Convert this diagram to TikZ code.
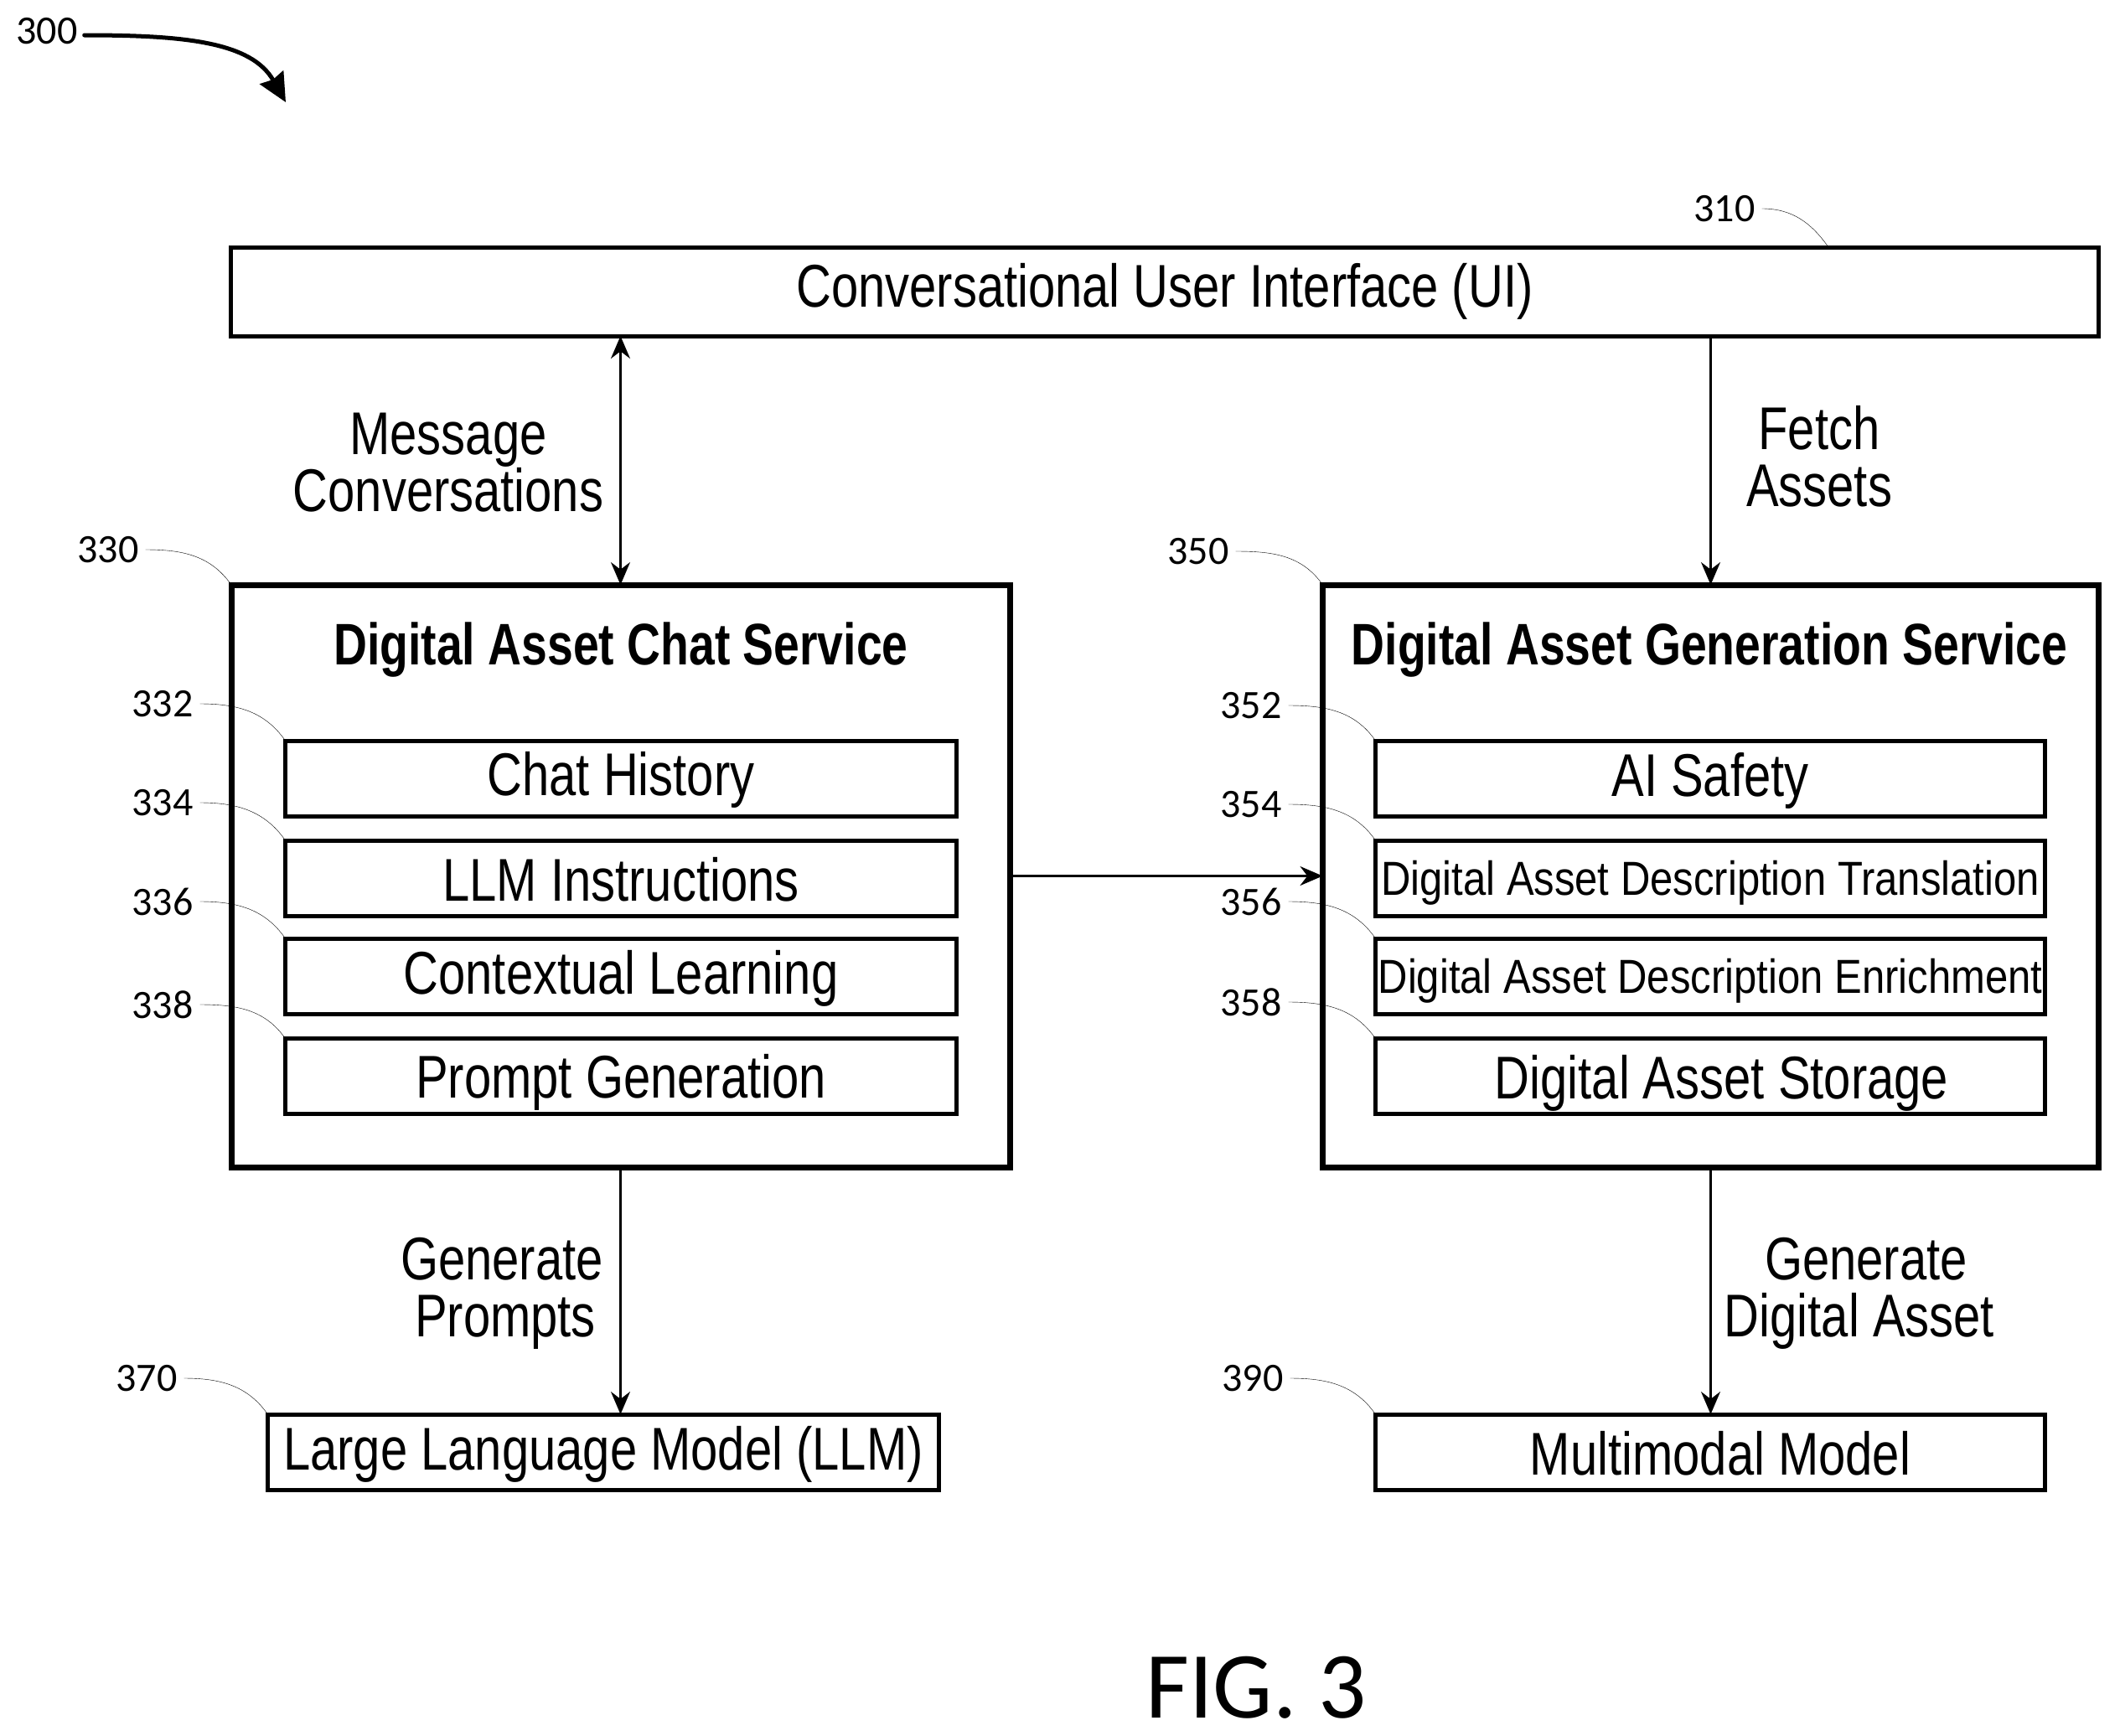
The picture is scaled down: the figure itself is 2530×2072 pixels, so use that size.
\documentclass[tikz,border=0pt]{standalone}
\usepackage{fontspec}
\usetikzlibrary{arrows.meta}
\newfontfamily\numfont{Carlito}
\newfontfamily\lblfont[FakeStretch=0.805]{Liberation Sans}
\newfontfamily\narrowfont[FakeStretch=0.86]{Liberation Sans}
\newfontfamily\boldfont[FakeStretch=0.79]{Liberation Sans Bold}
\newcommand{\sunk}[2]{\raisebox{-#1}[\height][\depth]{#2}}
\tikzset{
  box/.style={draw,line width=5pt,outer sep=0pt,inner sep=0pt,align=center,font=\fontsize{72}{84}\lblfont},
  bigbox/.style={draw,line width=7pt,outer sep=0pt,minimum height=695pt},
  subbox/.style={box,minimum height=90pt},
  smalltxt/.style={font=\fontsize{57}{66}\narrowfont},
  lbl/.style={align=center,inner sep=0pt,font=\fontsize{72}{68}\lblfont},
  title/.style={inner sep=0pt,font=\fontsize{70}{78}\boldfont},
  num/.style={inner sep=8pt,font=\fontsize{48}{56}\numfont},
  leader/.style={line width=3.5pt,out=0,in=235},
  flow/.style={line width=2.5pt,-{Stealth[length=27pt,width=23pt]}},
  flowboth/.style={line width=2.5pt,{Stealth[length=27pt,width=23pt]}-{Stealth[length=27pt,width=23pt]}},
}
\begin{document}
\begin{tikzpicture}[x=1pt,y=1pt,yscale=-1,xscale=1]
\path [use as bounding box,fill=white] (0,0) rectangle (2530,2072);

% Boxes
\draw (1390,348) node (ui) [box,minimum width=2229pt,minimum height=106pt] {Conversational User Interface (UI)};
\draw (740.5,1045.5) node (chat) [bigbox,minimum width=929pt] {};
\draw (2041.5,1045.5) node (gen) [bigbox,minimum width=926pt] {};
\draw (741,929) node (hist) [subbox,minimum width=801pt] {\sunk{2pt}{Chat History}};
\draw (741,1048) node (instr) [subbox,minimum width=801pt] {\sunk{2pt}{LLM Instructions}};
\draw (741,1165) node (learn) [subbox,minimum width=801pt] {\sunk{3pt}{Contextual Learning}};
\draw (741,1284.5) node (prompt) [subbox,minimum width=801pt] {\sunk{7pt}{Prompt Generation}};
\draw (2041,929) node (safety) [subbox,minimum width=799pt] {\sunk{3pt}{AI Safety}};
\draw (2041,1048) node (transl) [subbox,smalltxt,minimum width=799pt] {\sunk{6pt}{Digital Asset Description Translation}};
\draw (2041,1165) node (enrich) [subbox,smalltxt,minimum width=799pt] {\sunk{6pt}{Digital Asset Description Enrichment}};
\draw (2041,1284.5) node (store) [subbox,minimum width=799pt] {\hspace{27pt}\sunk{8pt}{Digital Asset Storage}};
\draw (720,1733) node (llm) [subbox,minimum width=801pt] {\sunk{3pt}{Large Language Model (LLM)}};
\draw (2041,1733) node (multi) [subbox,minimum width=799pt] {\hspace{24pt}\sunk{2pt}{Multimodal Model}};

% Titles
\draw (741,776) node (chatTitle) [title] {Digital Asset Chat Service};
\draw (2040,776) node (genTitle) [title] {Digital Asset Generation Service};

% Arrows
\draw [flowboth] (chat.north) -- (chat.north |- ui.south);
\draw [flow] (gen.north |- ui.south) -- (gen.north);
\draw [flow] (chat.east) -- (gen.west);
\draw [flow] (chat.south) -- (chat.south |- llm.north);
\draw [flow] (gen.south) -- (gen.south |- multi.north);

% Arrow labels
\draw (535,552) node (msgLbl) [lbl] {Message\\Conversations};
\draw (2171,545) node (fetchLbl) [lbl] {Fetch\\Assets};
\draw (599,1544) node (promptLbl) [lbl] {Generate\\\hspace{8pt}Prompts};
\draw (2219,1544) node (assetLbl) [lbl] {\hspace{16pt}Generate\\Digital Asset};

% Reference numbers
\draw (56,37) node (n300) [num] {300};
\draw (2058,249) node (n310) [num] {310};
\draw (129,656) node (n330) [num] {330};
\draw (1430,658) node (n350) [num] {350};
\draw (194,840) node (n332) [num] {332};
\draw (194,958) node (n334) [num] {334};
\draw (194,1076) node (n336) [num] {336};
\draw (194,1199) node (n338) [num] {338};
\draw (1493,842) node (n352) [num] {352};
\draw (1493,960) node (n354) [num] {354};
\draw (1493,1076) node (n356) [num] {356};
\draw (1493,1196) node (n358) [num] {358};
\draw (175,1645) node (n370) [num] {370};
\draw (1495,1645) node (n390) [num] {390};

% Leaders
\coordinate (uiCorner) at (2182,295);
\draw (n310.east) to [leader] (uiCorner);
\draw (n330.east) to [leader] (chat.north west);
\draw (n350.east) to [leader] (gen.north west);
\draw (n332.east) to [leader] (hist.north west);
\draw (n334.east) to [leader] (instr.north west);
\draw (n336.east) to [leader] (learn.north west);
\draw (n338.east) to [leader] (prompt.north west);
\draw (n352.east) to [leader] (safety.north west);
\draw (n354.east) to [leader] (transl.north west);
\draw (n356.east) to [leader] (enrich.north west);
\draw (n358.east) to [leader] (store.north west);
\draw (n370.east) to [leader] (llm.north west);
\draw (n390.east) to [leader] (multi.north west);

\coordinate (tip300) at (341,122);
\draw [line width=5pt,line cap=round,-{Stealth[length=34pt,width=32pt,inset=3pt]}] ([yshift=5pt]n300.east) .. controls (220,42) and (300,50) .. (tip300);

% Text Node
\draw (1499,2014) node (figLbl) [inner sep=0pt,font=\fontsize{113}{130}\numfont] {FIG. 3};
\end{tikzpicture}
\end{document}
